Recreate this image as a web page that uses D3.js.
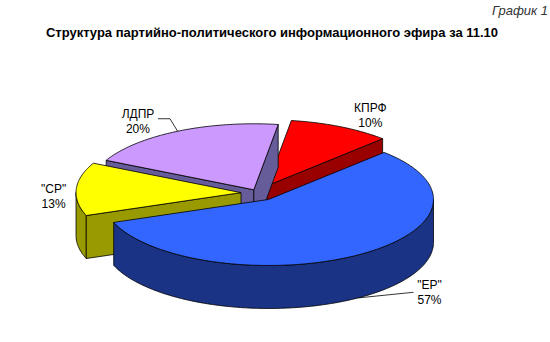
<!DOCTYPE html>
<html><head><meta charset="utf-8">
<script src="https://cdn.jsdelivr.net/npm/d3@7"></script>
<style>body{margin:0;background:#fff} svg{display:block}</style>
</head><body>
<svg id="chart" width="550" height="342"></svg>
<script>
// ---- data ----
const parties = ["КПРФ", "\"ЕР\"", "\"СР\"", "ЛДПР"];
const shares = [10, 57, 13, 20];
const percentLabels = ["10%", "57%", "13%", "20%"];
const titleText = "Структура партийно-политического информационного эфира за 11.10";
const captionText = "График 1";

// ---- style ----
const topColors = ["#FF0000", "#3366FF", "#FFFF00", "#CC99FF"];
const sideColors = ["#990000", "#1A3385", "#999900", "#665C99"];
const explode = [0.122, 0.117, 0.103, 0.055];
const labelDist = 1.35;
const labelNudge = [[4, 6], [40, 15], [35, 5], [-13, 7]];
const leaders = [false, true, false, true];

const W = 550, H = 342;
const cx = 258, cy = 193, rx = 165, ry = 66, depth = 43;
const startDeg = 8.5;

const svg = d3.select("#chart");
const font = "'Liberation Sans', Arial, sans-serif";

// ground-plane -> screen scales
const sx = d3.scaleLinear().domain([-1, 1]).range([cx - rx, cx + rx]);
const sy = d3.scaleLinear().domain([-1, 1]).range([cy + ry, cy - ry]);

const start = startDeg * Math.PI / 180;
const pie = d3.pie().sort(null).value(d => d).startAngle(start).endAngle(start + 2 * Math.PI);
const arcs = pie(shares).map((a, i) => {
  const m = (a.startAngle + a.endAngle) / 2;
  return {i, a0: a.startAngle, a1: a.endAngle, m,
    ox: explode[i] * Math.sin(m), oy: explode[i] * Math.cos(m)};
});

function pt(s, r, t, z) {
  return [sx(s.ox + r * Math.sin(t)), sy(s.oy + r * Math.cos(t)) + z];
}
function arcPts(s, t0, t1, z) {
  const n = Math.max(2, Math.ceil(Math.abs(t1 - t0) / (Math.PI / 180)));
  const out = [];
  for (let k = 0; k <= n; k++) out.push(pt(s, 1, t0 + (t1 - t0) * k / n, z));
  return out;
}
const line = d3.line();
const closed = pts => line(pts) + "Z";

// painter order: back first
const order = arcs.slice().sort((p, q) => Math.cos(q.m) - Math.cos(p.m));
const g = svg.append("g").attr("stroke", "#000").attr("stroke-width", 0.8).attr("stroke-linejoin", "round");

order.forEach(s => {
  const i = s.i;
  for (let k = -1; k <= 1; k++) {
    const lo = Math.PI / 2 + 2 * Math.PI * k, hi = 3 * Math.PI / 2 + 2 * Math.PI * k;
    const t0 = Math.max(s.a0, lo), t1 = Math.min(s.a1, hi);
    if (t1 > t0) {
      const pts = arcPts(s, t0, t1, 0).concat(arcPts(s, t1, t0, depth));
      g.append("path").attr("d", closed(pts)).attr("fill", sideColors[i]);
    }
  }
  const faces = [];
  if (Math.sin(s.a0) < 0) faces.push(s.a0);
  if (Math.sin(s.a1) > 0) faces.push(s.a1);
  faces.forEach(t => {
    const pts = [pt(s, 0, t, 0), pt(s, 1, t, 0), pt(s, 1, t, depth), pt(s, 0, t, depth)];
    g.append("path").attr("d", closed(pts)).attr("fill", sideColors[i]);
  });
  const topPts = [pt(s, 0, 0, 0)].concat(arcPts(s, s.a0, s.a1, 0));
  g.append("path").attr("d", closed(topPts)).attr("fill", topColors[i]);
});

// labels
arcs.forEach(s => {
  const i = s.i;
  const p = pt(s, labelDist, s.m, 0);
  const ax = p[0] + labelNudge[i][0], ay = p[1] + labelNudge[i][1];
  const t = svg.append("text").attr("font-family", font).attr("font-size", 12)
    .attr("text-anchor", "middle").attr("fill", "#000");
  t.append("tspan").attr("x", ax).attr("y", ay).text(parties[i]);
  t.append("tspan").attr("x", ax).attr("y", ay + 15).text(percentLabels[i]);
  if (leaders[i]) {
    let pts;
    if (Math.cos(s.m) > 0) {
      const end = pt(s, 1, s.m, 0);
      pts = [[ax + 20, ay + 1], [ax + 32, ay + 1], end];
    } else {
      const end = pt(s, 1, s.m, depth);
      pts = [[ax - 16, ay + 3], end];
    }
    svg.append("path").attr("d", line(pts)).attr("fill", "none")
      .attr("stroke", "#000").attr("stroke-width", 0.8);
  }
});

svg.append("text").attr("x", 272).attr("y", 37).attr("text-anchor", "middle")
  .attr("font-family", font).attr("font-size", 13).attr("font-weight", "bold")
  .text(titleText);
svg.append("text").attr("x", 548).attr("y", 15).attr("text-anchor", "end")
  .attr("font-family", font).attr("font-size", 13).attr("font-style", "italic")
  .attr("fill", "#333").text(captionText);
</script>
</body></html>
